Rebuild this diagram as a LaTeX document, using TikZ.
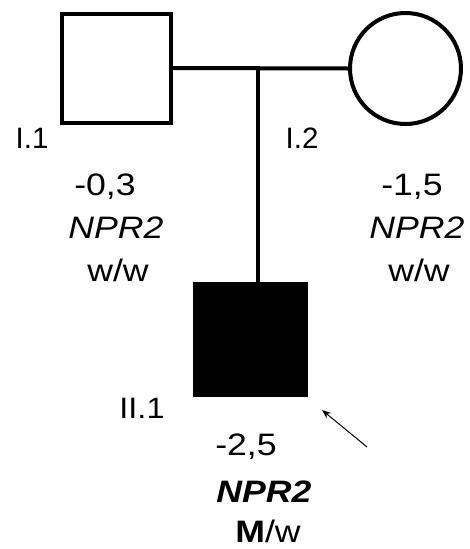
\documentclass[tikz,border=0pt]{standalone}
\usepackage{fontspec}
\usepackage{graphicx}
\setmainfont{Liberation Sans}
\usetikzlibrary{arrows.meta}
\newcommand{\stretchtxt}[1]{\scalebox{1.15}[1]{#1}}
\begin{document}
\begin{tikzpicture}[x=1pt,y=-1pt,
  indiv/.style={draw=black, line width=4pt, inner sep=0pt, fill=white},
  malebox/.style={indiv, rectangle, minimum size=109pt},
  femalecirc/.style={indiv, circle, minimum size=111pt},
  affected/.style={rectangle, fill=black, inner sep=0pt, minimum size=115pt},
  link/.style={line width=4pt},
  lbl/.style={anchor=base, inner sep=0pt, font=\fontsize{29.5}{34}\selectfont},
  info/.style={anchor=base, inner sep=0pt, font=\fontsize{31}{36}\selectfont},
  pointer/.style={line width=1pt, -{Stealth[length=9pt,width=7pt]}}]
\useasboundingbox (0,0) rectangle (470,549);
% individuals
\node[malebox] (father) at (116.5,68) {};
\node[femalecirc] (mother) at (405.5,68.5) {};
\node[affected] (child) at (250.5,339.5) {};
% connectors
\coordinate (mid) at (257.5,68);
\draw[link] (father.east) -- (mother.west);
\draw[link] (mid) -- (mid |- child.north);
% labels I.1
\node[lbl] (l11) at (32,148) {I.1};
\node[info] (v11) at (105,195.5) {\stretchtxt{-0,3}};
\node[info] (g11) at (116,238) {\stretchtxt{\itshape NPR2}};
\node[info] (a11) at (118,281) {\stretchtxt{w/w}};
% labels I.2
\node[lbl] (l12) at (302,148) {I.2};
\node[info] (v12) at (412,195.5) {\stretchtxt{-1,5}};
\node[info] (g12) at (417,238) {\stretchtxt{\itshape NPR2}};
\node[info] (a12) at (419,281) {\stretchtxt{w/w}};
% labels II.1
\node[lbl] (l21) at (142,418) {\scalebox{1.1}[1]{II.1}};
\node[info] (v21) at (246,455) {\stretchtxt{-2,5}};
\node[info] (g21) at (264,502) {\stretchtxt{\bfseries\itshape NPR2}};
\node[info] (a21) at (268,542) {\stretchtxt{\textbf{M}/w}};
% proband arrow
\coordinate (ptail) at (367,447);
\coordinate (phead) at (322,410);
\draw[pointer] (ptail) -- (phead);
\end{tikzpicture}
\end{document}
